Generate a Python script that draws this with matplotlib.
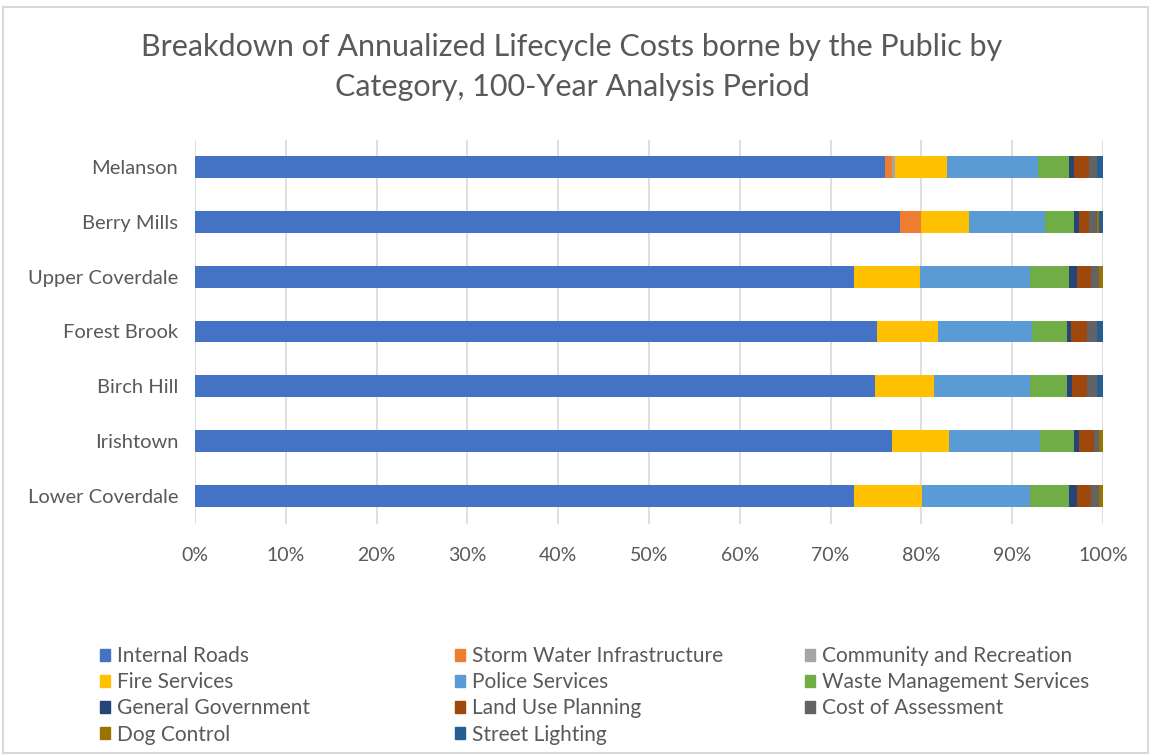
import matplotlib.pyplot as plt
from matplotlib.patches import Rectangle, Patch
import numpy as np

plt.rcParams['font.family'] = ['Lato', 'DejaVu Sans']

# neighbourhoods, top to bottom as shown
places = ["Melanson", "Berry Mills", "Upper Coverdale", "Forest Brook",
          "Birch Hill", "Irishtown", "Lower Coverdale"]

categories = ["Internal Roads", "Storm Water Infrastructure", "Community and Recreation",
              "Fire Services", "Police Services", "Waste Management Services",
              "General Government", "Land Use Planning", "Cost of Assessment",
              "Dog Control", "Street Lighting"]

colors = ["#4472C4", "#ED7D31", "#A5A5A5", "#FFC000", "#5B9BD5", "#70AD47",
          "#264478", "#9E480E", "#636363", "#997300", "#255E91"]

# share of annualized cost (%), one list per category, in the order of places
internal_roads = [76.0, 77.6, 72.6, 75.1, 74.9, 76.8, 72.6]
storm_water    = [0.8, 2.4, 0.0, 0.0, 0.0, 0.0, 0.0]
community_rec  = [0.3, 0.0, 0.0, 0.0, 0.0, 0.0, 0.0]
fire           = [5.7, 5.2, 7.2, 6.7, 6.5, 6.2, 7.5]
police         = [10.0, 8.4, 12.2, 10.4, 10.6, 10.1, 11.9]
waste          = [3.5, 3.2, 4.3, 3.8, 4.0, 3.7, 4.3]
general_gov    = [0.5, 0.6, 0.8, 0.5, 0.6, 0.6, 0.8]
land_use       = [1.7, 1.1, 1.6, 1.7, 1.6, 1.6, 1.6]
assessment     = [0.8, 0.8, 0.9, 1.1, 1.1, 0.6, 0.9]
dog_control    = [0.0, 0.3, 0.4, 0.0, 0.0, 0.4, 0.4]
street_light   = [0.7, 0.4, 0.0, 0.7, 0.7, 0.0, 0.0]

series = [internal_roads, storm_water, community_rec, fire, police, waste,
          general_gov, land_use, assessment, dog_control, street_light]

fig = plt.figure(figsize=(11.51, 7.56), dpi=100)
ax = fig.add_axes([195/1151, 1-523.5/756, 908/1151, 384/756])

y = np.arange(len(places))
left = np.zeros(len(places))
for vals, col, name in zip(series, colors, categories):
    vals = np.array(vals)
    ax.barh(y, vals, left=left, height=0.4, color=col, label=name, zorder=3)
    left += vals

ax.set_xlim(0, 100)
ax.set_ylim(len(places)-0.5, -0.5)
ax.set_yticks(y)
ax.set_yticklabels(places)
ax.set_xticks(np.arange(0, 101, 10))
ax.set_xticklabels([f"{v}%" for v in range(0, 101, 10)])
ax.tick_params(length=0, colors="#595959")
ax.tick_params(axis='y', pad=12, labelsize=14.5)
ax.tick_params(axis='x', pad=17, labelsize=14)
for s in ax.spines.values():
    s.set_visible(False)
ax.grid(axis='x', color="#D9D9D9", linewidth=1.2, zorder=0)
ax.set_axisbelow(True)

fig.text(0.497, 1-47/756, "Breakdown of Annualized Lifecycle Costs borne by the Public by",
         ha='center', va='center', fontsize=22, color="#595959")
fig.text(0.497, 1-87/756, "Category, 100-Year Analysis Period",
         ha='center', va='center', fontsize=22, color="#595959")

# legend: three columns, filled row by row
cols_x = [100/1151, 455/1151, 805/1151]
for c in range(3):
    idx = list(range(c, len(categories), 3))
    handles = [Patch(color=colors[i], label=categories[i]) for i in idx]
    fig.legend(handles=handles, loc='upper left',
               bbox_to_anchor=(cols_x[c], 1-646/756), frameon=False,
               fontsize=15, labelcolor="#595959", handlelength=0.5,
               handleheight=0.5, handletextpad=0.3, labelspacing=0.3,
               borderpad=0, borderaxespad=0)

fig.patches.append(Rectangle((3/1151, 3/756), 1-6/1151, 1-10/756,
                             transform=fig.transFigure, fill=False,
                             edgecolor="#D9D9D9", linewidth=1.5))

fig.savefig("out.png", dpi=100)
